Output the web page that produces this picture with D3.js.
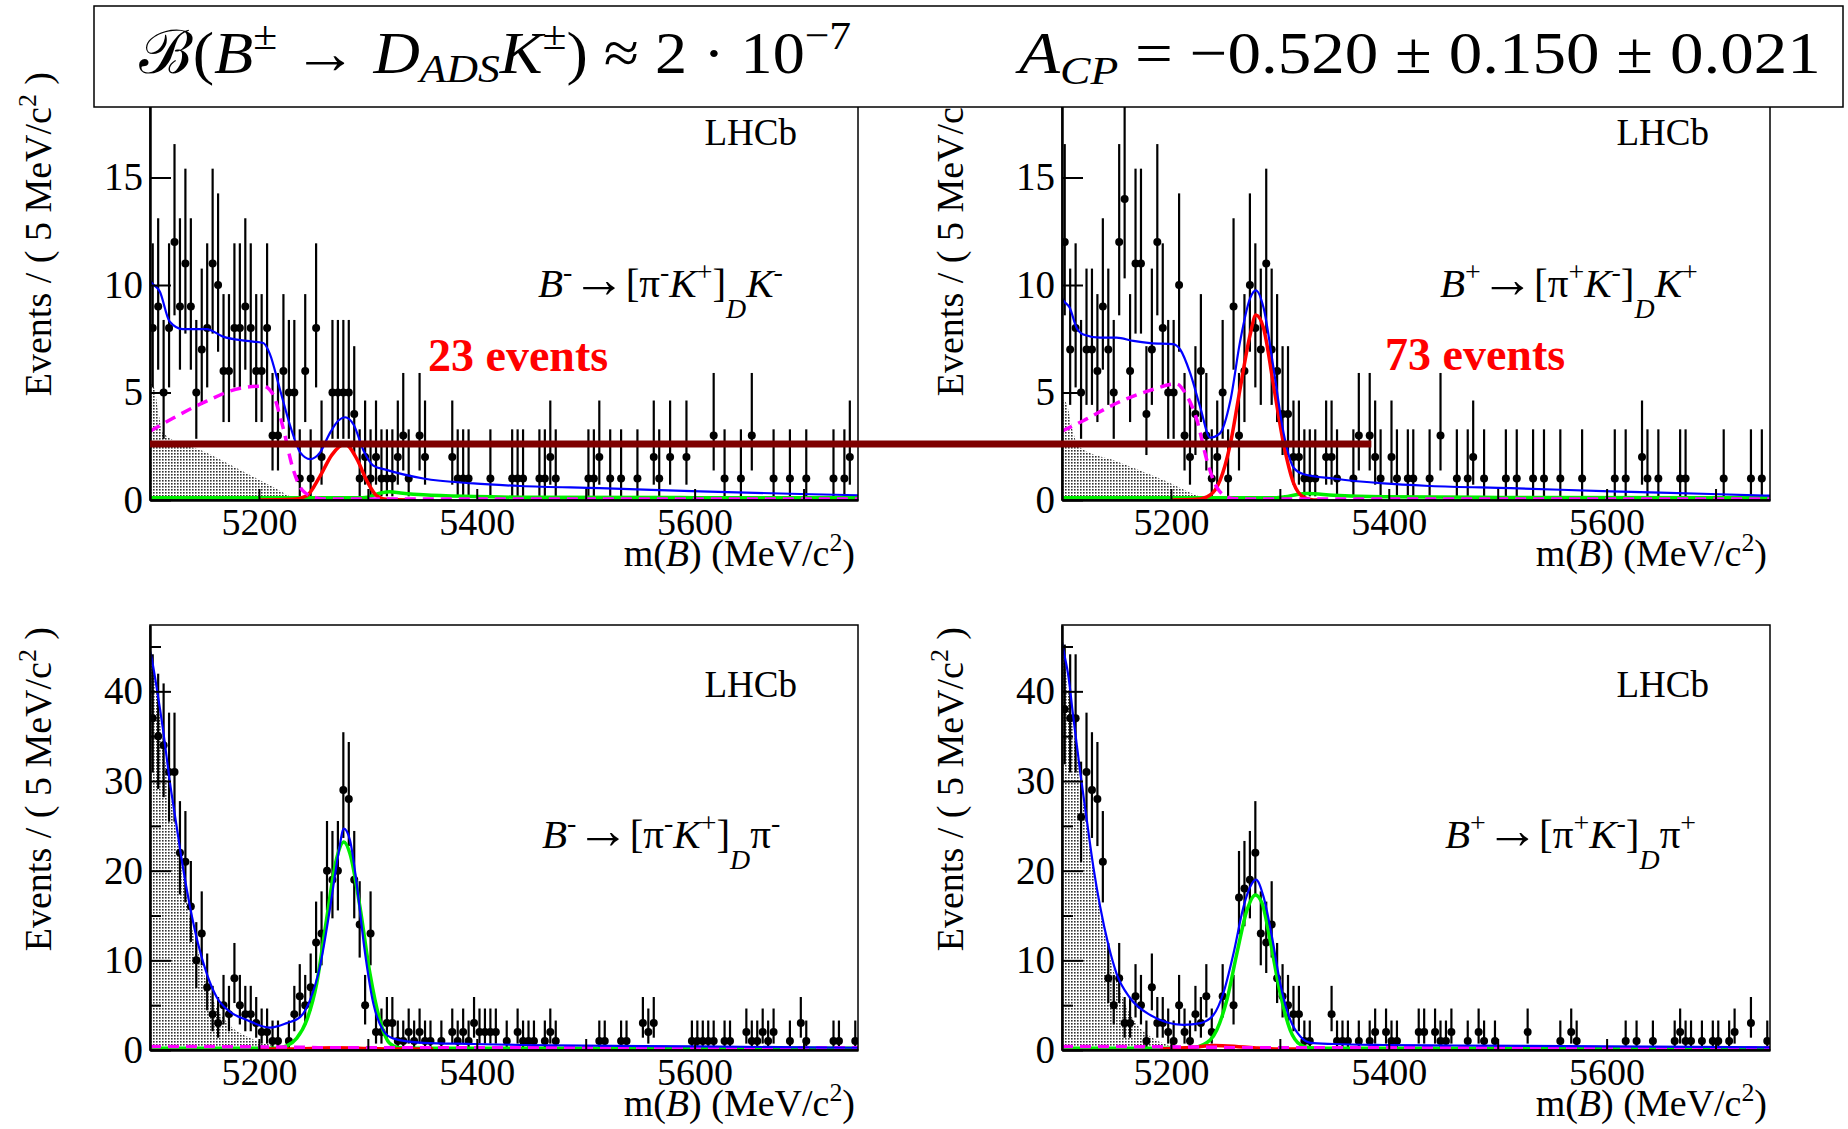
<!DOCTYPE html>
<html>
<head>
<meta charset="utf-8">
<script src="https://cdn.jsdelivr.net/npm/d3@7"></script>
<style>
  body { margin: 0; background: #fff; }
  svg { display: block; }
  text { font-family: "Liberation Serif", "Times New Roman", serif; fill: #000; }
</style>
</head>
<body>
<svg id="chart" width="1848" height="1129"></svg>
<script>
// ---- data ----
const massRange = [5100, 5750];
const binWidth = 5;
const xTickValues = [5200, 5300, 5400, 5500, 5600, 5700];
const xTickLabels = [5200, 5400, 5600];
const yTicksKaon = [0, 5, 10, 15];
const yTicksPion = [0, 10, 20, 30, 40];
const yMinorPion = [5, 15, 25, 35, 45];

// events per 5 MeV bin, 5100..5750
const countsBmK = [
  8, 9, 5, 8, 12, 9, 11, 9, 5, 7, 8, 11, 10, 6, 6, 8, 8, 9, 8, 6,
  6, 8, 3, 3, 6, 5, 5, 1, 6, 1, 8, 2, 0, 5, 5, 5, 5, 4, 1, 2,
  1, 2, 1, 1, 1, 2, 3, 1, 0, 3, 2, 0, 0, 0, 0, 2, 1, 1, 1, 0,
  0, 0, 1, 0, 0, 0, 1, 1, 1, 0, 0, 1, 1, 2, 1, 0, 0, 0, 0, 0,
  1, 1, 2, 0, 1, 0, 1, 0, 0, 1, 0, 0, 2, 1, 0, 2, 0, 0, 2, 0,
  0, 0, 0, 3, 0, 1, 0, 0, 1, 0, 3, 0, 0, 0, 1, 0, 0, 1, 0, 0,
  1, 0, 0, 0, 0, 1, 0, 1, 2, 0
];
const countsBpK = [
  12, 7, 8, 5, 7, 7, 6, 9, 7, 5, 12, 14, 6, 11, 11, 4, 7, 12, 8, 5,
  5, 10, 3, 2, 4, 6, 3, 1, 2, 5, 1, 9, 3, 6, 10, 8, 7, 11, 7, 6,
  4, 4, 2, 2, 1, 1, 1, 0, 2, 2, 1, 0, 0, 1, 3, 0, 3, 2, 1, 0,
  2, 1, 0, 1, 1, 0, 0, 1, 0, 3, 0, 0, 1, 0, 1, 2, 0, 1, 0, 0,
  0, 1, 0, 1, 0, 0, 1, 0, 1, 0, 0, 1, 0, 0, 0, 1, 0, 0, 0, 0,
  0, 1, 0, 1, 0, 0, 2, 1, 0, 1, 0, 0, 0, 1, 1, 0, 0, 0, 0, 0,
  0, 1, 0, 0, 0, 0, 1, 0, 1, 0
];
const countsBmPi = [
  37, 35, 34, 31, 31, 22, 21, 16, 10, 13, 7, 4, 3, 5, 4, 8, 5, 4, 4, 3,
  2, 2, 1, 1, 0, 1, 4, 6, 5, 7, 12, 13, 20, 19, 20, 29, 28, 19, 14, 5,
  13, 2, 2, 3, 3, 1, 1, 2, 1, 2, 1, 1, 0, 1, 0, 2, 1, 2, 1, 3,
  2, 2, 2, 2, 0, 1, 0, 2, 1, 1, 1, 0, 1, 2, 1, 0, 0, 0, 0, 0,
  0, 0, 1, 1, 0, 0, 1, 1, 0, 0, 3, 2, 3, 0, 0, 0, 0, 0, 0, 1,
  1, 1, 1, 1, 0, 1, 1, 0, 0, 2, 1, 1, 2, 1, 2, 0, 0, 1, 0, 3,
  1, 0, 0, 0, 0, 1, 1, 0, 0, 1
];
const countsBpPi = [
  38, 37, 37, 26, 31, 29, 28, 21, 8, 5, 8, 3, 3, 6, 5, 1, 7, 3, 3, 2,
  1, 5, 2, 1, 4, 3, 6, 2, 0, 6, 0, 5, 17, 18, 19, 22, 13, 12, 14, 8,
  6, 5, 4, 4, 1, 1, 0, 0, 0, 4, 1, 1, 1, 0, 1, 0, 1, 2, 0, 2,
  1, 1, 0, 0, 0, 2, 2, 0, 2, 1, 1, 2, 0, 0, 1, 0, 2, 1, 0, 1,
  0, 0, 0, 0, 0, 2, 0, 0, 0, 0, 0, 1, 0, 2, 1, 0, 0, 0, 0, 0,
  0, 0, 0, 1, 0, 1, 0, 0, 1, 0, 0, 0, 1, 2, 1, 1, 0, 1, 0, 1,
  1, 0, 1, 2, 0, 0, 3, 0, 0, 1
];

// fit components, [mass, events]
const totalBmK = [[5100,10.2],[5101.5,10.1],[5109,9.7],[5118,8.3],[5130,7.95],[5152,7.95],[5167,7.6],[5189,7.4],[5204,7.3],[5210,6.8],[5219,5.2],[5229,3.4],[5238,2.2],[5247,1.9],[5256,2.2],[5265,3.1],[5273,3.7],[5279,3.85],[5287,3.5],[5296,2.3],[5305,1.6],[5317,1.4],[5351,1.0],[5397,0.77],[5440,0.65],[5513,0.55],[5605,0.4],[5697,0.28],[5750,0.22]];
const partRecoBmK = [[5100,3.2],[5121,3.8],[5152,4.6],[5183,5.2],[5204,5.3],[5213,4.9],[5222,3.4],[5231,1.5],[5240,0.45],[5253,0.1],[5262,0.05],[5750,0.05]];
const signalBmK = [[5200,0],[5231,0.03],[5244,0.2],[5256,1.1],[5267,2.1],[5279,2.6],[5290,1.9],[5299,0.9],[5308,0.2],[5317,0.03],[5340,0]];
const misidBmK = [[5100,0.1],[5290,0.1],[5300,0.13],[5310,0.3],[5320,0.38],[5330,0.33],[5351,0.24],[5397,0.16],[5440,0.13],[5600,0.11],[5750,0.1]];
const shadeBmK = [[5100,5.5],[5104,5.2],[5108,4.0],[5112,3.1],[5152,2.2],[5183,1.4],[5213,0.6],[5236,0.05],[5250,0]];

const totalBpK = [[5100,9.4],[5101,9.3],[5107,8.95],[5113.5,8.0],[5119.6,7.7],[5135,7.55],[5150,7.55],[5165.5,7.4],[5181,7.3],[5202,7.25],[5208.5,7.0],[5217.7,5.9],[5227,4.3],[5236,2.9],[5245,3.1],[5254.5,4.6],[5263.6,7.4],[5272.8,9.4],[5278,9.75],[5285,8.95],[5294,6.2],[5303.5,3.1],[5312.7,1.5],[5322,1.2],[5349.4,1.0],[5395,0.77],[5438,0.65],[5512,0.55],[5604,0.4],[5696,0.28],[5750,0.2]];
const partRecoBpK = [[5100,3.2],[5120,3.7],[5150,4.5],[5181,5.1],[5205,5.4],[5214,4.9],[5224,3.7],[5233,1.85],[5242,0.6],[5254,0.1],[5264,0.05],[5750,0.05]];
const signalBpK = [[5200,0],[5224,0.03],[5236,0.23],[5245,0.9],[5254.5,2.6],[5263.6,5.2],[5272.8,7.7],[5278,8.6],[5285,8.0],[5294,5.4],[5303.5,2.6],[5312.7,0.77],[5322,0.12],[5331,0],[5340,0]];
const misidBpK = [[5100,0.1],[5295,0.1],[5305,0.15],[5316,0.26],[5325,0.3],[5349,0.22],[5395,0.15],[5500,0.12],[5750,0.1]];
const shadeBpK = [[5100,4.7],[5104,4.5],[5110,3.2],[5115,2.5],[5150,1.8],[5190,1.0],[5236,0.05],[5250,0]];

const totalBmPi = [[5100,44.5],[5101.5,43.7],[5106,40.5],[5112,35.7],[5118,30.1],[5124.5,24.9],[5130.6,20.1],[5136.7,16],[5144,11.9],[5152,8.55],[5161,5.95],[5173,4.3],[5189,3.35],[5210,2.5],[5225.5,3.0],[5238,3.7],[5247,5.6],[5256,9.3],[5265,15.6],[5273,21.9],[5278,24.7],[5283.6,23.4],[5289.7,18.6],[5297,11.2],[5305,5.2],[5314,2.2],[5323,1.3],[5351,0.8],[5397,0.67],[5440,0.56],[5600,0.4],[5750,0.25]];
const signalBmPi = [[5100,0.2],[5216,0.2],[5225.5,0.45],[5234.6,1.3],[5244,3.35],[5253,7.4],[5262,14.5],[5271,21.2],[5278,23.2],[5283.6,21.9],[5292.7,16],[5301.9,8.55],[5311,3.35],[5320,0.75],[5329,0.25],[5340,0.2],[5750,0.2]];
const kaonBmPi = [[5200,0.1],[5240,0.15],[5270,0.25],[5300,0.18],[5330,0.1],[5360,0.1]];
const partRecoBmPi = [[5100,0.4],[5200,0.35],[5240,0.3],[5260,0.25],[5750,0.25]];
const shadeBmPi = [[5100,44],[5106,40],[5112,34],[5118,29],[5124.5,24],[5130.6,19.5],[5137,14.5],[5144,11],[5152,7.5],[5161,4.8],[5173,2.8],[5189,1.5],[5204,0.8],[5220,0.3],[5236,0]];

const totalBpPi = [[5100,45.5],[5101,44.8],[5106,41.6],[5110,37.5],[5116.5,31.2],[5122.7,25.7],[5128.8,20.4],[5135,16],[5142.6,11.7],[5150,8.55],[5162.5,5.8],[5181,3.9],[5211.5,2.8],[5227,3.0],[5239,3.9],[5248,6.3],[5257.5,10.8],[5266.7,16],[5272.8,18.2],[5278,19],[5285,17.1],[5292.8,12.6],[5300.4,7.4],[5309.6,3.35],[5318.8,1.5],[5328,0.8],[5349.4,0.67],[5395,0.56],[5438,0.52],[5600,0.4],[5750,0.3]];
const signalBpPi = [[5100,0.2],[5217.7,0.2],[5230,0.6],[5242,2.2],[5251.4,5.6],[5260.6,10.8],[5269.8,15.6],[5277.5,17.3],[5283.6,16.4],[5291,12.3],[5300.4,6.3],[5309.6,2.2],[5318.8,0.6],[5328,0.25],[5340,0.2],[5750,0.2]];
const kaonBpPi = [[5190,0.1],[5220,0.3],[5240,0.5],[5260,0.4],[5280,0.22],[5300,0.12],[5320,0.1]];
const partRecoBpPi = [[5100,0.4],[5200,0.35],[5240,0.3],[5260,0.25],[5750,0.25]];
const shadeBpPi = [[5100,45],[5106,40],[5110,36],[5116.5,30.5],[5122.7,25],[5129,20],[5135,15.5],[5142.6,11],[5150,7.8],[5162.5,4],[5173,2.3],[5181,1.5],[5196,0.6],[5211,0.1],[5225,0]];

// annotation: line at the B- signal peak height, carried over to the B+ plot
const refLevel = 2.6;
const refLineEnd = 5384;
const yieldLabels = ["23 events", "73 events"];

// ---- drawing ----
const svg = d3.select("#chart");
const defs = svg.append("defs");
const dots = defs.append("pattern").attr("id", "dots")
  .attr("width", 3).attr("height", 3).attr("patternUnits", "userSpaceOnUse");
dots.append("rect").attr("width", 3).attr("height", 3).attr("fill", "#fff");
dots.append("rect").attr("width", 1.6).attr("height", 1.6).attr("fill", "#333");

function poissonLow(n) { return n * Math.pow(1 - 1 / (9 * n) - 1 / (3 * Math.sqrt(n)), 3); }
function poissonHigh(n) { const m = n + 1; return m * Math.pow(1 - 1 / (9 * m) + 1 / (3 * Math.sqrt(m)), 3); }

function rich(parent, parts, size, sup, sub) {
  const text = parent.append("text").attr("font-size", size);
  let cur = 0;
  parts.forEach((p) => {
    const shift = p.pos === "sup" ? sup * size : p.pos === "sub" ? sub * size : 0;
    const ts = text.append("tspan").attr("dy", shift - cur).text(p.t);
    if (p.pos) ts.attr("font-size", 0.68 * size);
    if (p.big) ts.attr("font-size", p.big * size);
    if (p.it) ts.attr("font-style", "italic");
    cur = shift;
  });
  return text;
}

function decay(charge, bachelor) {
  const opp = charge === "-" ? "+" : "-";
  return [
    { t: "B", it: true }, { t: charge, pos: "sup" }, { t: "\u2192", big: 1.3 }, { t: "[\u03c0" }, { t: charge, pos: "sup" },
    { t: "K", it: true }, { t: opp, pos: "sup" }, { t: "]" }, { t: "D", it: true, pos: "sub" },
    { t: bachelor, it: bachelor === "K" }, { t: charge, pos: "sup" },
  ];
}

const panels = [
  { counts: countsBmK, total: totalBmK, sig: signalBmK, misid: misidBmK, part: partRecoBmK, shade: shadeBmK,
    left: 150, right: 858, top: 70, bottom: 500, yMax: 20,
    yTicks: yTicksKaon, yMinor: [], label: decay("-", "K"), labelX: 538, labelY: 297, lhcbY: 145, titleX: 51 },
  { counts: countsBpK, total: totalBpK, sig: signalBpK, misid: misidBpK, part: partRecoBpK, shade: shadeBpK,
    left: 1062, right: 1770, top: 70, bottom: 500, yMax: 20,
    yTicks: yTicksKaon, yMinor: [], label: decay("+", "K"), labelX: 1440, labelY: 297, lhcbY: 145, titleX: 963 },
  { counts: countsBmPi, total: totalBmPi, sig: kaonBmPi, misid: signalBmPi, part: partRecoBmPi, shade: shadeBmPi,
    left: 150, right: 858, top: 625, bottom: 1050, yMax: 47.4,
    yTicks: yTicksPion, yMinor: yMinorPion, label: decay("-", "\u03c0"), labelX: 542, labelY: 848, lhcbY: 697, titleX: 51 },
  { counts: countsBpPi, total: totalBpPi, sig: kaonBpPi, misid: signalBpPi, part: partRecoBpPi, shade: shadeBpPi,
    left: 1062, right: 1770, top: 625, bottom: 1050, yMax: 47.4,
    yTicks: yTicksPion, yMinor: yMinorPion, label: decay("+", "\u03c0"), labelX: 1445, labelY: 848, lhcbY: 697, titleX: 963 },
];

const scales = [];

panels.forEach((p, idx) => {
  const x = d3.scaleLinear().domain(massRange).range([p.left, p.right]);
  const y = d3.scaleLinear().domain([0, p.yMax]).range([p.bottom, p.top]);
  scales.push({ x, y });
  const g = svg.append("g");

  defs.append("clipPath").attr("id", "clip" + idx).append("rect")
    .attr("x", p.left).attr("y", p.top).attr("width", p.right - p.left).attr("height", p.bottom - p.top);
  const plot = g.append("g").attr("clip-path", `url(#clip${idx})`);

  // shaded background component
  plot.append("path").datum(p.shade)
    .attr("d", d3.area().x((d) => x(d[0])).y0(y(0)).y1((d) => y(d[1])).curve(d3.curveMonotoneX))
    .attr("fill", "url(#dots)");

  // data points with Poisson errors
  const bins = p.counts
    .map((n, i) => ({ m: massRange[0] + (i + 0.5) * binWidth, n }))
    .filter((d) => d.n > 0);
  const pts = plot.selectAll(null).data(bins).join("g");
  pts.append("line")
    .attr("x1", (d) => x(d.m)).attr("x2", (d) => x(d.m))
    .attr("y1", (d) => y(poissonLow(d.n))).attr("y2", (d) => y(poissonHigh(d.n)))
    .attr("stroke", "#000").attr("stroke-width", 2.2);
  pts.append("line")
    .attr("x1", (d) => x(d.m - binWidth / 2)).attr("x2", (d) => x(d.m + binWidth / 2))
    .attr("y1", (d) => y(d.n)).attr("y2", (d) => y(d.n))
    .attr("stroke", "#000").attr("stroke-width", 2.2);
  pts.append("circle")
    .attr("cx", (d) => x(d.m)).attr("cy", (d) => y(d.n)).attr("r", 4).attr("fill", "#000");

  // frame
  g.append("rect").attr("x", p.left).attr("y", p.top)
    .attr("width", p.right - p.left).attr("height", p.bottom - p.top)
    .attr("fill", "none").attr("stroke", "#000").attr("stroke-width", 1.5);

  // axes
  const xAxis = g.append("g").attr("transform", `translate(0,${p.bottom})`)
    .call(d3.axisBottom(x).tickValues(xTickValues)
      .tickFormat((d) => (xTickLabels.includes(d) ? d : ""))
      .tickSizeInner(-11).tickSizeOuter(0).tickPadding(8));
  xAxis.select(".domain").attr("stroke-width", 2.5);
  xAxis.selectAll(".tick line").attr("stroke-width", 2);
  xAxis.selectAll(".tick text").filter(function () { return this.textContent === ""; }).remove();
  xAxis.selectAll("text").attr("font-size", 38).attr("font-family", "Liberation Serif");

  const yAxis = g.append("g").attr("transform", `translate(${p.left},0)`)
    .call(d3.axisLeft(y).tickValues(p.yTicks).tickFormat(d3.format("d"))
      .tickSizeInner(-21).tickSizeOuter(0).tickPadding(7));
  yAxis.select(".domain").attr("stroke-width", 2.5);
  yAxis.selectAll(".tick line").attr("stroke-width", 2);
  yAxis.selectAll("text").attr("font-size", 39).attr("font-family", "Liberation Serif");
  if (p.yMinor.length) {
    const yMin = g.append("g").attr("transform", `translate(${p.left},0)`)
      .call(d3.axisLeft(y).tickValues(p.yMinor).tickFormat("").tickSizeInner(-11).tickSizeOuter(0));
    yMin.select(".domain").remove();
    yMin.selectAll(".tick line").attr("stroke-width", 2);
    yMin.selectAll(".tick text").remove();
  }

  // fit curves (drawn over the axis line, as in the original)
  const line = d3.line().x((d) => x(d[0])).y((d) => y(d[1])).curve(d3.curveMonotoneX);
  plot.append("path").datum(p.misid).attr("d", line)
    .attr("fill", "none").attr("stroke", "#00ee00").attr("stroke-width", 3.5);
  plot.append("path").datum(p.sig).attr("d", line)
    .attr("fill", "none").attr("stroke", "#ff0000").attr("stroke-width", 3.5);
  plot.append("path").datum(p.part).attr("d", line)
    .attr("fill", "none").attr("stroke", "#ff00ff").attr("stroke-width", 3.5).attr("stroke-dasharray", "11,7");
  plot.append("path").datum(p.total).attr("d", line)
    .attr("fill", "none").attr("stroke", "#0000ff").attr("stroke-width", 2.2);

  // titles
  rich(g, [{ t: "m(" }, { t: "B", it: true }, { t: ") (MeV/c" }, { t: "2", pos: "sup" }, { t: ")" }], 38, -0.4, 0.3)
    .attr("x", p.right - 3).attr("y", p.bottom + 66).attr("text-anchor", "end");
  rich(g, [{ t: "Events / ( 5 MeV/c" }, { t: "2", pos: "sup" }, { t: " )" }], 38, -0.4, 0.3)
    .attr("text-anchor", "end")
    .attr("transform", `translate(${p.titleX},${p.top + 2}) rotate(-90)`);

  g.append("text").attr("x", p.right - 61).attr("y", p.lhcbY).attr("text-anchor", "end")
    .attr("font-size", 37).text("LHCb");
  rich(g, p.label, 41, -0.4, 0.5).attr("x", p.labelX).attr("y", p.labelY);
});

// reference line and yields
const s0 = scales[0], s1 = scales[1];
svg.append("line")
  .attr("x1", s0.x(massRange[0])).attr("x2", s1.x(refLineEnd))
  .attr("y1", s0.y(refLevel)).attr("y2", s0.y(refLevel))
  .attr("stroke", "#7f0000").attr("stroke-width", 7);
svg.append("text").attr("x", 428).attr("y", 371).attr("font-size", 46).attr("font-weight", "bold")
  .style("fill", "#ff0000").text(yieldLabels[0]);
svg.append("text").attr("x", 1385).attr("y", 370).attr("font-size", 46).attr("font-weight", "bold")
  .style("fill", "#ff0000").text(yieldLabels[1]);

// header box
svg.append("rect").attr("x", 94).attr("y", 6).attr("width", 1749).attr("height", 101)
  .attr("fill", "#fff").attr("stroke", "#000").attr("stroke-width", 1.5);

function fitText(t, x0, y0, width) {
  const w = t.node().getComputedTextLength();
  t.attr("transform", `translate(${x0},${y0}) scale(${width / w},1)`);
}
const hdrL = rich(svg, [
  { t: "\u212c(" }, { t: "B", it: true }, { t: "\u00b1", pos: "sup" }, { t: " \u2192 " },
  { t: "D", it: true }, { t: "ADS", it: true, pos: "sub" }, { t: "K", it: true }, { t: "\u00b1", pos: "sup" },
  { t: ") \u2248 2 \u00b7 10" }, { t: "\u22127", pos: "sup" },
], 60, -0.4, 0.15);
fitText(hdrL, 139, 73, 712);
const hdrR = rich(svg, [
  { t: "A", it: true }, { t: "CP", it: true, pos: "sub" }, { t: " = \u22120.520 \u00b1 0.150 \u00b1 0.021" },
], 60, -0.4, 0.18);
fitText(hdrR, 1019, 73, 802);
</script>
</body>
</html>
